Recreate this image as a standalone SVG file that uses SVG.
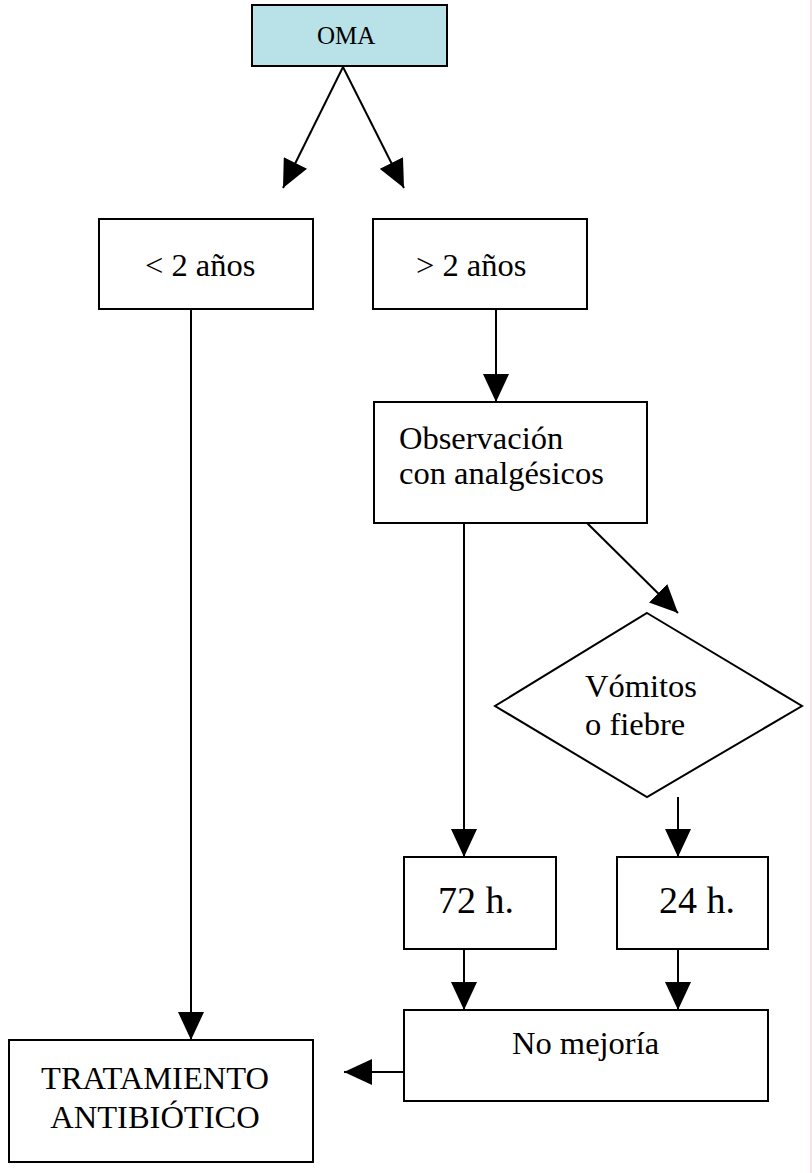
<svg xmlns="http://www.w3.org/2000/svg" width="812" height="1173" viewBox="0 0 812 1173">
<style>
.box{fill:#ffffff;stroke:#000000;stroke-width:2}
.oma{fill:#b9e2e8;stroke:#000000;stroke-width:2}
.t{font-family:"Liberation Serif","Times New Roman",serif;fill:#000000;font-size:32.5px}
.big{font-size:38px}
.small{font-size:25px}
.mid{text-anchor:middle}
.c{fill:none;stroke:#000000;stroke-width:2}
</style>
<defs>
<marker id="ah" viewBox="0 0 28 26" refX="28" refY="13" markerWidth="28" markerHeight="26" markerUnits="userSpaceOnUse" orient="auto">
<path d="M0,0 L28,13 L0,26 z" fill="#000000"/>
</marker>
</defs>
<rect x="0" y="0" width="812" height="1173" fill="#ffffff"/>
<line x1="811" y1="0" x2="811" y2="1173" stroke="#efc4c4" stroke-width="1"/>

<g id="connectors">
<line class="c" x1="343" y1="67" x2="283" y2="188" marker-end="url(#ah)"/>
<line class="c" x1="343" y1="67" x2="404" y2="188" marker-end="url(#ah)"/>
<line class="c" x1="191" y1="309" x2="191" y2="1040" marker-end="url(#ah)"/>
<line class="c" x1="496" y1="309" x2="496" y2="402" marker-end="url(#ah)"/>
<line class="c" x1="464" y1="523" x2="464" y2="857" marker-end="url(#ah)"/>
<line class="c" x1="587" y1="523" x2="678" y2="613" marker-end="url(#ah)"/>
<line class="c" x1="678" y1="797" x2="678" y2="857" marker-end="url(#ah)"/>
<line class="c" x1="464" y1="949" x2="464" y2="1010" marker-end="url(#ah)"/>
<line class="c" x1="678" y1="949" x2="678" y2="1010" marker-end="url(#ah)"/>
<line class="c" x1="404" y1="1072" x2="344" y2="1072" marker-end="url(#ah)"/>
</g>

<g id="oma">
<rect class="oma" x="252" y="5" width="195" height="61"/>
<text class="t small" x="317" y="44">OMA</text>
</g>
<g id="menor2">
<rect class="box" x="99" y="219" width="214" height="90"/>
<text class="t" x="145" y="276">&lt; 2 años</text>
</g>
<g id="mayor2">
<rect class="box" x="373" y="219" width="214" height="90"/>
<text class="t" x="416" y="276">&gt; 2 años</text>
</g>
<g id="observacion">
<rect class="box" x="374" y="402" width="273" height="121"/>
<text class="t" x="399" y="449">Observación</text>
<text class="t" x="399" y="484">con analgésicos</text>
</g>
<g id="vomitos">
<polygon class="box" points="647,613 802,706 647,797 495,706"/>
<text class="t" x="585" y="697">Vómitos</text>
<text class="t" x="585" y="735">o fiebre</text>
</g>
<g id="h72">
<rect class="box" x="404" y="857" width="152" height="92"/>
<text class="t big" x="438" y="913">72 h.</text>
</g>
<g id="h24">
<rect class="box" x="617" y="857" width="151" height="92"/>
<text class="t big" x="659" y="913">24 h.</text>
</g>
<g id="nomejoria">
<rect class="box" x="404" y="1010" width="364" height="91"/>
<text class="t" x="512" y="1054">No mejoría</text>
</g>
<g id="tratamiento">
<rect class="box" x="9" y="1040" width="304" height="122"/>
<text class="t mid" x="155" y="1089">TRATAMIENTO</text>
<text class="t mid" x="155" y="1128">ANTIBIÓTICO</text>
</g>
</svg>
